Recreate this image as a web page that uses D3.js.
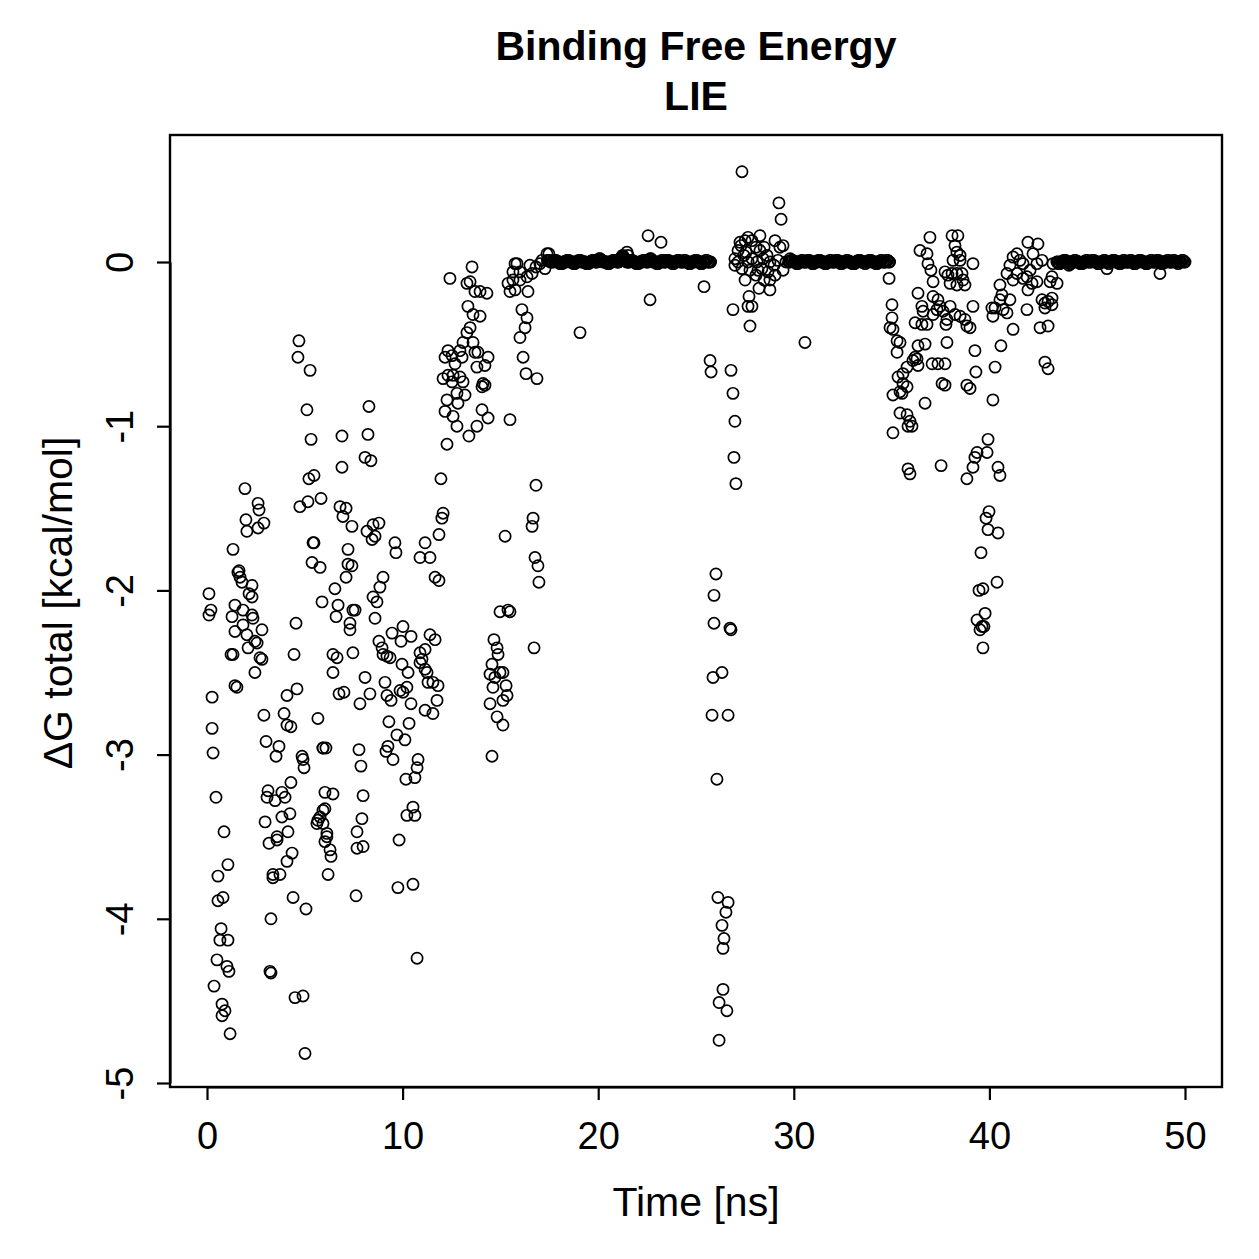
<!DOCTYPE html>
<html><head><meta charset="utf-8">
<script src="https://cdn.jsdelivr.net/npm/d3@7"></script>
<style>body{margin:0;background:#fff}svg{display:block}text{font-family:"Liberation Sans",Arial,Helvetica,sans-serif}</style>
</head><body>
<svg id="chart" width="1259" height="1259"></svg>
<script>
const titleLines = ["Binding Free Energy", "LIE"];
const xLabel = "Time [ns]";
const yLabel = "\u0394G total [kcal/mol]";
const xTicks = [0, 10, 20, 30, 40, 50];
const yTicks = [-5, -4, -3, -2, -1, 0];

// scattered samples: time [ns]
const timeScatter = [
0.10,0.10,0.20,0.26,0.26,0.31,0.46,0.36,0.51,0.56,0.56,0.72,0.66,0.77,0.92,0.77,0.87,0.82,1.07,1.02,1.12,1.18,1.07,1.28,1.43,1.33,1.33,1.43,1.53,1.64,1.58,1.69,1.79,1.84,1.43,1.94,1.99,2.04,2.04,2.10,2.30,2.15,2.30,2.30,2.35,2.45,2.56,2.45,2.61,2.66,2.61,2.91,2.81,2.71,2.81,1.23,1.84,
2.91,3.02,3.68,3.53,3.12,3.07,3.83,3.99,3.48,2.97,3.83,4.24,3.58,3.58,4.14,3.17,3.37,3.73,3.27,4.09,3.37,4.40,5.06,3.22,3.27,4.50,4.91,5.01,4.09,4.60,3.94,4.09,4.29,4.45,4.55,4.29,4.35,4.70,4.65,5.27,5.11,5.32,5.21,5.47,4.75,5.16,5.83,5.42,5.47,5.37,5.78,5.88,4.86,4.96,4.91,5.67,5.93,6.03,5.67,5.62,5.93,6.13,6.29,6.34,6.19,5.78,5.93,6.03,6.03,6.13,5.93,6.08,
8.28,6.90,8.23,6.90,8.08,8.38,6.80,7.11,6.95,7.41,8.18,8.49,8.79,8.59,8.44,9.61,9.66,7.21,11.15,10.89,11.40,11.96,11.86,12.01,12.07,11.66,11.86,7.21,7.41,7.11,6.54,6.70,7.46,7.57,6.60,7.31,7.31,9.00,8.84,8.49,8.69,8.59,9.46,10.02,10.43,9.92,8.79,8.95,9.00,9.20,9.36,11.40,11.66,10.89,11.15,10.99,10.89,9.97,10.28,6.44,6.65,7.46,6.44,8.08,9.10,10.22,9.87,10.02,11.25,11.30,11.55,11.81,6.75,7.00,8.33,7.82,9.20,9.41,10.43,11.76,11.15,11.55,9.30,10.33,9.71,10.12,9.25,9.15,9.51,7.77,7.87,10.79,10.74,10.17,10.63,6.44,7.98,7.92,10.53,10.22,10.63,7.67,7.67,7.98,7.62,9.82,9.76,10.53,10.74,11.15,
13.55,12.42,13.29,13.45,13.70,13.96,14.31,13.34,13.60,13.96,13.45,13.29,13.09,13.60,12.32,12.17,12.53,12.68,12.93,13.04,13.70,13.85,14.37,14.21,13.80,12.32,12.58,12.93,13.09,12.53,12.07,14.11,14.21,14.06,12.78,13.19,12.83,12.27,12.17,12.58,12.78,14.06,14.37,13.80,13.39,12.27,
14.67,14.83,14.88,14.57,14.47,14.98,15.13,14.72,14.62,15.29,15.34,15.13,14.47,14.83,15.13,14.57,14.98,15.39,15.49,15.24,15.49,16.67,16.62,16.77,16.92,16.97,16.72,16.82,16.87,16.31,16.16,16.00,16.26,16.36,16.10,15.85,15.64,16.00,16.51,16.62,15.64,16.00,16.36,15.49,15.75,16.41,17.13,17.38,17.48,15.75,15.39,16.82,17.02,17.28,
19.07,22.65,22.55,23.21,21.47,21.52,25.41,
25.72,25.77,26.02,25.92,25.92,26.74,26.79,25.87,26.33,25.82,26.64,26.07,26.12,26.64,26.53,26.33,26.43,26.38,26.38,26.18,26.58,26.18,26.79,26.89,26.99,26.94,27.04,26.89,27.71,27.66,27.86,28.22,28.78,27.76,30.57,27.35,29.24,29.35,
27.25,27.51,27.66,27.86,28.07,28.27,27.45,27.15,26.99,27.35,27.66,27.86,28.12,28.43,28.63,28.78,28.99,29.19,29.29,29.45,29.60,29.81,28.37,28.68,29.04,28.07,27.76,27.51,28.78,29.45,26.99,28.27,29.04,27.15,27.30,27.56,28.48,28.17,28.48,
34.87,35.02,35.02,34.92,35.07,35.28,35.43,35.28,36.35,36.45,36.81,36.96,36.86,37.01,37.12,36.55,36.61,36.20,36.55,36.81,36.35,36.71,36.20,36.09,36.30,36.35,35.79,35.58,35.33,35.58,35.79,35.43,35.07,35.53,36.71,35.43,35.79,35.94,36.04,35.84,35.07,37.12,37.37,37.47,37.32,37.12,37.63,37.99,37.83,37.78,38.24,37.07,37.37,37.73,37.58,37.73,37.83,39.16,39.26,39.01,38.85,39.31,38.09,38.39,38.24,38.34,38.50,38.14,38.50,39.16,37.73,37.88,38.09,38.34,38.60,38.65,37.99,38.34,38.75,38.50,38.75,38.85,39.01,40.13,40.29,40.18,40.70,40.90,40.54,41.05,40.64,40.29,40.18,39.93,39.37,39.26,39.16,39.88,38.85,40.44,40.54,37.53,35.84,35.94,39.98,39.83,39.93,40.44,39.57,40.39,39.67,39.47,39.78,39.37,39.62,39.52,39.72,39.67,40.54,40.90,41.05,41.21,41.41,41.56,41.72,41.97,42.48,42.23,42.43,42.08,41.92,42.18,41.97,42.43,42.69,41.41,41.72,41.21,41.92,42.69,42.84,43.00,42.84,43.20,43.20,42.59,43.00,43.25,43.20,43.46,43.10,42.84,43.00,40.59,41.21,
44.07,46.01,48.72
];
// scattered samples: dG total [kcal/mol]
const dgScatter = [
-2.02,-2.15,-2.12,-2.65,-2.84,-2.99,-3.26,-4.41,-4.25,-3.74,-3.89,-4.06,-4.13,-4.52,-4.56,-4.59,-3.47,-3.87,-4.13,-4.29,-4.32,-4.70,-3.67,-2.16,-2.09,-1.75,-2.39,-2.58,-2.59,-1.88,-1.89,-1.92,-1.95,-2.21,-2.25,-1.38,-1.57,-1.64,-2.27,-2.35,-1.97,-2.02,-2.04,-2.15,-2.17,-2.31,-2.32,-2.50,-1.47,-1.51,-1.62,-1.59,-2.24,-2.41,-2.42,-2.39,-2.12,
-2.76,-2.92,-2.95,-3.01,-3.22,-3.26,-3.23,-3.26,-3.28,-3.41,-3.38,-3.36,-3.50,-3.52,-3.47,-3.54,-3.73,-3.73,-4.00,-3.65,-3.75,-3.87,-3.94,-4.32,-4.33,-4.48,-4.47,-4.82,-2.64,-2.60,-2.75,-2.82,-2.83,-2.39,-2.20,-3.17,-3.60,-0.48,-0.58,-0.66,-0.90,-1.08,-1.32,-1.30,-1.49,-1.46,-1.44,-1.71,-1.71,-1.83,-1.86,-2.07,-3.01,-3.08,-3.03,-2.78,-2.96,-3.23,-3.40,-3.42,-3.34,-3.48,-3.58,-3.62,-3.73,-3.38,-3.42,-3.33,-3.53,-3.50,-2.96,-2.96,
-0.88,-1.06,-1.05,-1.25,-1.19,-1.21,-1.49,-1.50,-1.55,-1.61,-1.64,-1.60,-1.59,-1.67,-1.69,-1.71,-1.77,-1.75,-1.71,-1.80,-1.80,-1.32,-1.66,-1.56,-1.53,-1.92,-1.94,-1.84,-1.85,-1.92,-1.99,-2.09,-2.12,-2.12,-2.16,-2.20,-2.24,-1.92,-1.98,-2.04,-2.07,-2.17,-2.26,-2.22,-2.28,-2.31,-2.31,-2.35,-2.39,-2.40,-2.41,-2.27,-2.30,-2.38,-2.36,-2.42,-2.44,-2.45,-2.50,-2.39,-2.41,-2.38,-2.50,-2.53,-2.56,-2.59,-2.61,-2.62,-2.50,-2.56,-2.56,-2.58,-2.63,-2.62,-2.63,-2.69,-2.64,-2.67,-2.69,-2.67,-2.73,-2.75,-2.80,-2.81,-2.88,-2.91,-2.95,-2.98,-3.03,-2.97,-3.07,-3.03,-3.08,-3.15,-3.14,-3.24,-3.25,-3.39,-3.32,-3.37,-3.37,-3.47,-3.57,-3.56,-3.86,-3.52,-3.81,-3.79,-4.24,-2.48,
-0.03,-0.10,-0.13,-0.12,-0.18,-0.18,-0.19,-0.27,-0.32,-0.33,-0.40,-0.43,-0.49,-0.49,-0.54,-0.58,-0.57,-0.62,-0.54,-0.58,-0.55,-0.55,-0.58,-0.63,-0.64,-0.69,-0.69,-0.70,-0.73,-0.73,-0.71,-0.74,-0.75,-0.76,-0.80,-0.81,-0.86,-0.84,-0.91,-0.94,-1.00,-0.90,-0.95,-1.00,-1.06,-1.11,
-2.30,-2.35,-2.39,-2.45,-2.51,-2.50,-2.50,-2.53,-2.59,-2.58,-2.64,-2.67,-2.69,-2.77,-2.82,-3.01,-2.13,-2.12,-2.13,-1.67,-0.96,-1.56,-1.61,-1.80,-1.85,-1.95,-2.35,-1.36,-0.71,-0.68,-0.58,-0.46,-0.40,-0.34,-0.29,-0.01,-0.06,-0.06,-0.02,-0.07,-0.11,-0.11,-0.09,-0.18,-0.17,-0.18,0.01,0.05,0.05,-0.01,-0.13,-0.03,-0.01,-0.04,
-0.43,-0.23,0.16,0.12,0.06,0.04,-0.15,
-0.60,-0.67,-1.90,-2.03,-2.20,-2.23,-2.24,-2.53,-2.50,-2.76,-2.76,-3.15,-3.87,-3.90,-3.96,-4.04,-4.12,-4.18,-4.43,-4.51,-4.56,-4.74,-0.66,-0.80,-0.97,-1.19,-1.35,-0.29,-0.21,-0.27,-0.27,-0.16,-0.17,-0.39,-0.49,0.55,0.36,0.26,
0.12,0.13,0.15,0.13,0.09,0.07,0.04,0.00,-0.02,-0.04,0.00,0.02,0.00,0.02,0.04,0.00,-0.02,0.01,0.09,0.10,0.00,0.02,-0.04,-0.06,-0.08,-0.08,-0.05,-0.11,-0.11,-0.05,0.02,0.16,0.13,0.07,0.10,0.06,0.09,-0.05,-0.11,
-0.10,-0.26,-0.34,-0.40,-0.41,-0.48,-0.49,-0.55,-0.19,0.07,0.05,0.15,-0.01,-0.05,-0.12,-0.27,-0.30,-0.37,-0.38,-0.38,-0.51,-0.50,-0.58,-0.60,-0.59,-0.63,-0.64,-0.68,-0.70,-0.74,-0.76,-0.79,-0.81,-0.80,-0.86,-0.92,-0.93,-0.97,-1.00,-1.00,-1.04,-0.21,-0.23,-0.27,-0.29,-0.32,-0.30,-0.27,-0.35,-0.38,-0.32,-0.62,-0.62,-0.62,-0.74,-0.75,-0.49,-0.27,-0.54,-0.77,-0.75,-0.67,0.16,0.16,0.10,0.06,0.04,0.01,0.01,-0.01,-0.06,-0.08,-0.07,-0.07,-0.07,-0.11,-0.13,-0.14,-0.14,-0.33,-0.35,-0.39,-0.40,-0.28,-0.28,-0.33,-0.29,-0.31,-0.23,-0.23,-0.20,-0.64,-0.84,-1.08,-1.16,-1.19,-1.25,-1.16,-1.32,-1.25,-1.30,-1.24,-1.26,-1.29,-1.52,-1.56,-1.63,-1.65,-1.77,-1.95,-1.99,-2.00,-2.14,-2.18,-2.22,-2.24,-2.22,-2.35,-0.14,-0.07,-0.02,0.03,0.05,0.01,-0.01,0.12,0.11,0.05,-0.01,-0.05,-0.09,-0.13,-0.17,-0.12,0.01,-0.07,-0.10,-0.11,-0.29,-0.23,-0.25,-0.24,-0.28,-0.22,-0.26,-0.40,-0.39,-0.01,-0.09,-0.13,-0.12,-0.61,-0.65,-0.51,-0.41,
-0.02,-0.04,-0.07
];

// equilibrated plateaus, one sample every 0.05 ns from the start time
const flatStep = 0.05;
const flat1Start = 17.4;
const flat1 = [
0.01,0.01,0.01,0.00,0.00,0.00,0.00,0.01,0.01,0.01,
0.00,0.00,0.00,-0.01,-0.01,-0.01,0.00,0.00,0.00,0.00,
0.01,0.01,0.01,0.00,0.00,0.00,0.00,-0.01,-0.01,0.00,
0.00,0.00,0.01,0.01,0.01,0.00,0.00,0.00,0.00,0.00,
-0.01,-0.01,-0.01,0.00,0.00,0.00,0.01,0.01,0.01,0.00,
0.00,0.00,0.01,0.02,0.02,0.01,0.01,0.00,0.00,0.00,
0.00,0.00,-0.01,-0.01,0.00,0.00,0.00,0.01,0.01,0.01,
0.01,0.00,0.00,0.00,0.01,0.02,0.03,0.04,0.03,0.02,
0.01,0.00,0.00,0.00,0.00,0.01,0.01,0.01,0.00,0.00,
0.00,-0.01,-0.01,-0.01,0.00,0.00,0.00,0.00,0.01,0.01,
0.01,0.00,0.00,0.00,0.01,0.02,0.02,0.01,0.00,0.00,
0.00,0.00,-0.01,-0.01,0.00,0.00,0.00,0.01,0.01,0.00,
0.00,0.00,0.01,0.01,0.01,0.00,0.00,0.00,-0.01,-0.01,
0.00,0.00,0.00,0.01,0.01,0.01,0.00,0.00,0.00,0.00,
0.01,0.01,0.00,0.00,0.00,-0.01,-0.01,0.00,0.00,0.00,
0.00,0.01,0.01,0.01,0.00,0.00,0.00,-0.01,-0.01,0.00,
0.00,0.00,0.01,0.01,0.00,0.00,0.00,0.00];
const flat2Start = 29.75;
const flat2 = [
0.00,0.00,0.01,0.01,0.01,0.00,0.00,0.00,-0.01,-0.01,
0.00,0.00,0.00,0.01,0.01,0.00,0.00,0.00,0.00,0.01,
0.01,0.01,0.00,0.00,-0.01,-0.01,0.00,0.00,0.00,0.00,
0.01,0.01,0.01,0.00,0.00,0.00,0.00,-0.01,-0.01,0.00,
0.00,0.00,0.01,0.01,0.00,0.00,0.00,0.00,0.01,0.01,
0.01,0.00,0.00,-0.01,-0.01,0.00,0.00,0.00,0.00,0.01,
0.01,0.00,0.00,0.00,0.00,-0.01,-0.01,-0.01,0.00,0.00,
0.00,0.01,0.01,0.01,0.00,0.00,0.00,0.00,-0.01,0.00,
0.00,0.00,0.01,0.01,0.01,0.00,0.00,0.00,0.00,-0.01,
-0.01,0.00,0.00,0.00,0.01,0.01,0.00,0.00,0.00,0.00,
0.01,0.01,0.00,0.00];
const flat3Start = 43.45;
const flat3 = [
0.00,0.00,-0.01,-0.01,0.00,0.00,0.00,0.01,0.01,0.01,
0.00,0.00,0.00,-0.01,-0.01,0.00,0.00,0.00,0.01,0.01,
0.00,0.00,0.00,0.00,-0.01,-0.01,-0.01,0.00,0.00,0.00,
0.01,0.01,0.00,0.00,0.00,0.00,0.01,0.01,0.01,0.00,
0.00,0.00,-0.01,-0.01,0.00,0.00,0.00,0.00,0.01,0.01,
0.00,0.00,0.00,-0.01,0.00,0.00,0.00,0.01,0.01,0.01,
0.00,0.00,0.00,0.00,-0.01,-0.01,0.00,0.00,0.01,0.01,
0.00,0.00,0.00,0.00,0.00,0.01,0.01,0.00,0.00,-0.01,
-0.01,0.00,0.00,0.00,0.01,0.01,0.01,0.00,0.00,0.00,
0.00,-0.01,-0.01,0.00,0.00,0.00,0.01,0.01,0.00,0.00,
0.00,0.00,0.01,0.01,0.01,0.00,0.00,-0.01,-0.01,0.00,
0.00,0.00,0.00,0.01,0.01,0.00,0.00,0.00,0.00,0.01,
0.01,0.00,0.00,0.00,-0.01,0.00,0.00,0.00,0.01,0.01,
0.00,0.00];

// ---- build point table ----
const points = timeScatter.map((t, i) => ({t, v: dgScatter[i]}));
[[flat1Start, flat1], [flat2Start, flat2], [flat3Start, flat3]].forEach(([s, arr]) => {
  arr.forEach((v, i) => points.push({t: +(s + i * flatStep).toFixed(3), v}));
});

const svg = d3.select("#chart");
const box = {left: 170, right: 1222, top: 135, bottom: 1087};
const x = d3.scaleLinear().domain([0, 50]).range([207, 1185]);
const y = d3.scaleLinear().domain([-5, 0]).range([1083, 262]);
const FONT = '"Liberation Sans",Arial,Helvetica,sans-serif';

// points
svg.append("g").selectAll("circle").data(points).join("circle")
  .attr("cx", d => x(d.t)).attr("cy", d => y(d.v)).attr("r", 5.6)
  .attr("fill", "none").attr("stroke", "#000").attr("stroke-width", 1.7);

// box
svg.append("rect").attr("x", box.left).attr("y", box.top)
  .attr("width", box.right - box.left).attr("height", box.bottom - box.top)
  .attr("fill", "none").attr("stroke", "#000").attr("stroke-width", 2.4);

// x axis
const gx = svg.append("g").attr("transform", `translate(0,${box.bottom})`)
  .call(d3.axisBottom(x).tickValues(xTicks).tickSize(13).tickSizeOuter(0).tickPadding(22).tickFormat(d => String(d)));
gx.selectAll("path,line").attr("stroke", "#000").attr("stroke-width", 2.2);
gx.selectAll("text").attr("font-size", 38).attr("fill", "#000").style("font-family", FONT);

// y axis
const gy = svg.append("g").attr("transform", `translate(${box.left},0)`)
  .call(d3.axisLeft(y).tickValues(yTicks).tickSize(13).tickSizeOuter(0).tickFormat(d => String(d)));
gy.selectAll("path,line").attr("stroke", "#000").attr("stroke-width", 2.2);
gy.selectAll("text").attr("font-size", 38).attr("fill", "#000").style("font-family", FONT)
  .attr("x", null).attr("dy", null).attr("text-anchor", "middle")
  .attr("transform", "translate(-37,0) rotate(-90)");

// titles and axis labels
svg.append("text").attr("x", 696).attr("y", 60).attr("text-anchor", "middle")
  .attr("font-size", 41).attr("font-weight", "bold").text(titleLines[0]);
svg.append("text").attr("x", 696).attr("y", 110).attr("text-anchor", "middle")
  .attr("font-size", 41).attr("font-weight", "bold").text(titleLines[1]);
svg.append("text").attr("x", 696).attr("y", 1216).attr("text-anchor", "middle")
  .attr("font-size", 41).text(xLabel);
svg.append("text").attr("transform", "translate(72,603) rotate(-90)").attr("text-anchor", "middle")
  .attr("font-size", 41).text(yLabel);
</script>
</body></html>
